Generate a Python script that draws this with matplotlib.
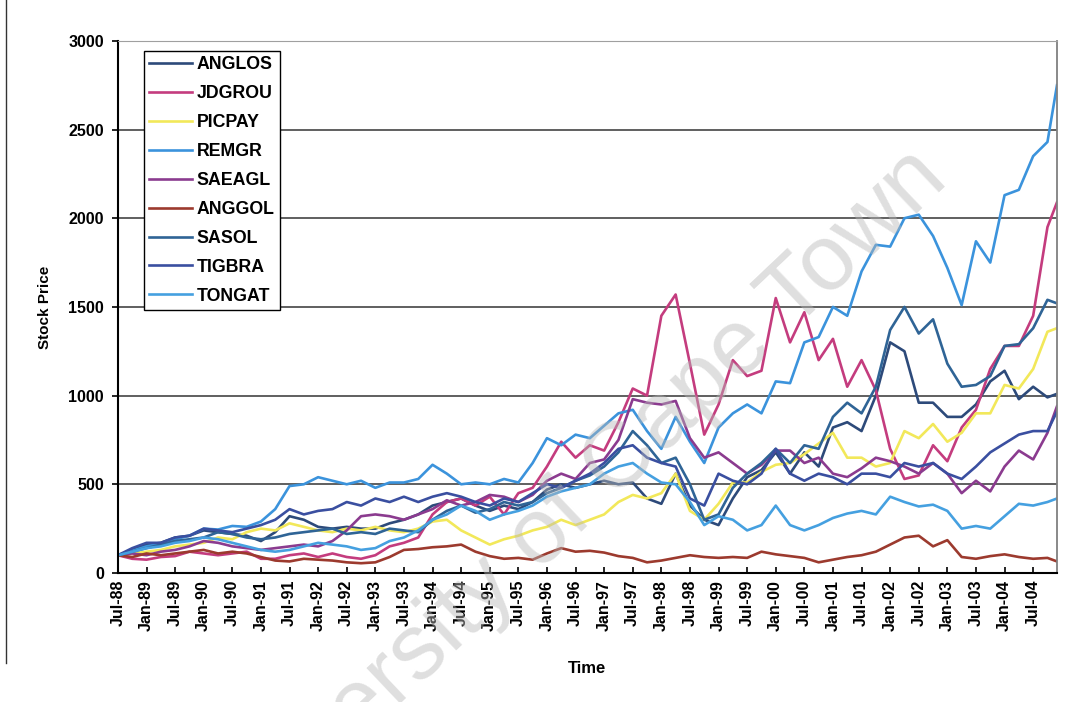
import matplotlib
matplotlib.use("Agg")
import matplotlib.pyplot as plt
from matplotlib.lines import Line2D

plt.rcParams['font.family'] = ['Liberation Sans', 'DejaVu Sans']
plt.rcParams['font.weight'] = 'bold'

# month index counted from Jul-88, sampled every quarter (last point Dec-04)
months = list(range(0, 196, 3)) + [197]

tick_months = list(range(0, 193, 6))
tick_labels = ['Jul-88', 'Jan-89', 'Jul-89', 'Jan-90', 'Jul-90', 'Jan-91', 'Jul-91',
               'Jan-92', 'Jul-92', 'Jan-93', 'Jul-93', 'Jan-94', 'Jul-94', 'Jan-95',
               'Jul-95', 'Jan-96', 'Jul-96', 'Jan-97', 'Jul-97', 'Jan-98', 'Jul-98',
               'Jan-99', 'Jul-99', 'Jan-00', 'Jul-00', 'Jan-01', 'Jul-01', 'Jan-02',
               'Jul-02', 'Jan-03', 'Jul-03', 'Jan-04', 'Jul-04']

anglos = [100, 130, 160, 170, 200, 210, 240, 230, 220, 210,
          180, 230, 320, 300, 260, 250, 260, 250, 250, 280,
          300, 330, 380, 400, 420, 380, 350, 380, 360, 400,
          470, 500, 480, 500, 520, 500, 510, 420, 390, 560,
          380, 300, 270, 420, 540, 580, 680, 560, 680, 600,
          820, 850, 800, 1000, 1300, 1250, 960, 960, 880, 880,
          950, 1080, 1140, 980, 1050, 990, 1010]

jdgrou = [100, 80, 75, 90, 95, 120, 110, 100, 110, 120,
          80, 80, 100, 110, 90, 110, 90, 80, 100, 150,
          170, 200, 330, 400, 420, 380, 430, 330, 450, 480,
          600, 740, 650, 720, 690, 850, 1040, 1000, 1450, 1570,
          1180, 780, 950, 1200, 1110, 1140, 1550, 1300, 1470, 1200,
          1320, 1050, 1200, 1030, 700, 530, 550, 720, 630, 820,
          920, 1150, 1280, 1280, 1450, 1950, 2090]

picpay = [100, 110, 120, 130, 150, 160, 170, 200, 190, 230,
          250, 240, 280, 260, 240, 230, 250, 240, 260, 240,
          230, 250, 290, 300, 240, 200, 160, 190, 210, 240,
          260, 300, 270, 300, 330, 400, 440, 420, 450, 560,
          350, 300, 390, 510, 510, 570, 610, 620, 670, 730,
          790, 650, 650, 600, 620, 800, 760, 840, 740, 790,
          900, 900, 1060, 1040, 1150, 1360, 1380]

remgr = [100, 125, 150, 165, 190, 210, 250, 245, 265, 260,
         290, 360, 490, 500, 540, 520, 500, 520, 480, 510,
         510, 530, 610, 560, 500, 510, 500, 530, 510, 620,
         760, 720, 780, 760, 830, 900, 920, 800, 700, 880,
         740, 620, 820, 900, 950, 900, 1080, 1070, 1300, 1330,
         1500, 1450, 1700, 1850, 1840, 2000, 2020, 1900, 1720, 1510,
         1870, 1750, 2130, 2160, 2350, 2430, 2750]

saeagl = [100, 110, 100, 120, 130, 150, 180, 170, 150, 140,
          130, 140, 150, 160, 150, 180, 240, 320, 330, 320,
          300, 330, 360, 410, 380, 400, 440, 430, 400, 440,
          520, 560, 530, 620, 640, 750, 980, 960, 950, 970,
          760, 650, 680, 620, 560, 610, 690, 690, 620, 650,
          560, 540, 590, 650, 630, 600, 560, 620, 560, 450,
          520, 460, 600, 690, 640, 790, 940]

anggol = [100, 90, 110, 100, 110, 120, 130, 110, 120, 110,
          90, 70, 65, 80, 75, 70, 60, 55, 60, 90,
          130, 135, 145, 150, 160, 120, 95, 80, 85, 75,
          110, 140, 120, 125, 115, 95, 85, 60, 70, 85,
          100, 90, 85, 90, 85, 120, 105, 95, 85, 60,
          75, 90, 100, 120, 160, 200, 210, 150, 185, 90,
          80, 95, 105, 90, 80, 85, 65]

sasol = [100, 120, 140, 160, 180, 190, 200, 230, 220, 200,
         190, 200, 220, 230, 240, 250, 220, 230, 220, 250,
         240, 230, 300, 350, 380, 340, 360, 400, 380, 400,
         450, 480, 520, 550, 600, 680, 800, 720, 620, 650,
         500, 300, 330, 480, 560, 620, 700, 620, 720, 700,
         880, 960, 900, 1050, 1370, 1500, 1350, 1430, 1180, 1050,
         1060, 1110, 1280, 1290, 1380, 1540, 1520]

tigbra = [100, 140, 170, 170, 200, 210, 250, 240, 230, 250,
          270, 300, 360, 330, 350, 360, 400, 380, 420, 400,
          430, 400, 430, 450, 430, 400, 380, 420, 400, 450,
          500, 480, 520, 560, 620, 700, 720, 650, 620, 600,
          420, 380, 560, 520, 500, 560, 700, 560, 520, 560,
          540, 500, 560, 560, 540, 620, 600, 620, 560, 530,
          600, 680, 730, 780, 800, 800, 910]

tongat = [100, 120, 140, 150, 170, 180, 200, 190, 170, 150,
          130, 120, 130, 150, 170, 160, 150, 130, 140, 180,
          200, 240, 300, 330, 380, 350, 300, 330, 350, 380,
          430, 460, 480, 500, 560, 600, 620, 560, 510, 500,
          400, 270, 320, 300, 240, 270, 380, 270, 240, 270,
          310, 335, 350, 330, 430, 400, 375, 385, 350, 250,
          265, 250, 320, 390, 380, 400, 420]

names = ['ANGLOS', 'JDGROU', 'PICPAY', 'REMGR', 'SAEAGL', 'ANGGOL', 'SASOL', 'TIGBRA', 'TONGAT']
series = [anglos, jdgrou, picpay, remgr, saeagl, anggol, sasol, tigbra, tongat]
colors = ['#2d4a7a', '#c43c7e', '#f2e85a', '#3b93dc', '#8b3b8f', '#9c3a2e', '#2f6496', '#3a4fa0', '#45a0e0']

fig = plt.figure(figsize=(10.72, 7.02), dpi=100)
ax = fig.add_axes([0.110, 0.1838, 0.876, 0.758])

for name, vals, col in zip(names, series, colors):
    ax.plot(months, vals, color=col, lw=1.9, label=name)

ax.set_xlim(0, 197)
ax.set_ylim(0, 3000)
ax.set_yticks(range(0, 3001, 500))
ax.tick_params(axis='y', labelsize=11.5, length=4, width=1.2, pad=6)
ax.set_xticks(tick_months)
ax.set_xticklabels(tick_labels, rotation=90)
ax.tick_params(axis='x', labelsize=11.5, direction='in', length=4, width=1.2, pad=5)
for t in ax.get_yticklabels() + ax.get_xticklabels():
    t.set_fontweight('bold')

ax.yaxis.grid(True, color='#444444', lw=1.2)
ax.set_axisbelow(True)
ax.spines['left'].set_linewidth(1.5)
ax.spines['bottom'].set_linewidth(1.5)
ax.spines['top'].set_color('#a0a0a0')
ax.spines['right'].set_color('#808080')
ax.spines['right'].set_linewidth(1.3)

ax.set_ylabel('Stock Price', fontsize=11, fontweight='bold', labelpad=12)
ax.set_xlabel('Time', fontsize=12, fontweight='bold', labelpad=22)

leg = ax.legend(loc='upper left', bbox_to_anchor=(0.0277, 0.981), borderaxespad=0,
                fancybox=False, edgecolor='black', framealpha=1, fontsize=12.8,
                handlelength=2.4, handletextpad=0.25, labelspacing=0.67, borderpad=0.3)
leg.get_frame().set_linewidth(1.0)
for t in leg.get_texts():
    t.set_fontweight('bold')

# scan watermark and outer frame line
fig.text(0.532, 0.274, 'University of Cape Town', rotation=43.5, fontsize=67,
         fontweight='normal', color='#b8b8b8', alpha=0.45, ha='center', va='center',
         rotation_mode='anchor', zorder=10)
fig.add_artist(Line2D([0.006, 0.006], [0.055, 1.0], color='#333333', lw=1.0))

fig.savefig('out.png', dpi=100)
